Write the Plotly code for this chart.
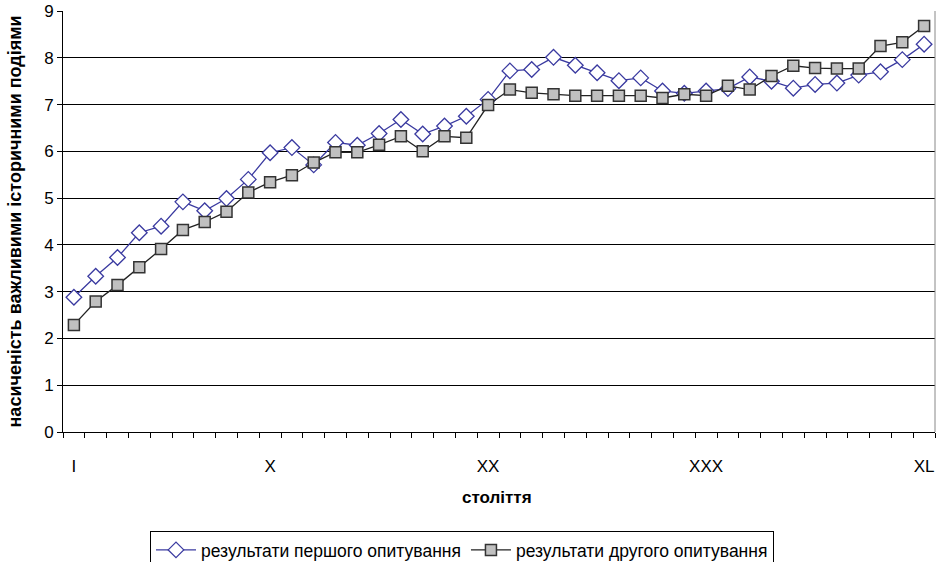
import plotly.graph_objects as go

centuries = list(range(1, 41))
tick_positions = [1, 10, 20, 30, 40]
tick_labels = ["I", "X", "XX", "XXX", "XL"]

survey1 = [2.88, 3.33, 3.73, 4.26, 4.40, 4.92, 4.73, 4.99, 5.40, 5.97,
           6.08, 5.71, 6.19, 6.13, 6.38, 6.68, 6.37, 6.54, 6.75, 7.11,
           7.72, 7.75, 8.01, 7.84, 7.68, 7.51, 7.57, 7.29, 7.24, 7.29,
           7.34, 7.59, 7.50, 7.35, 7.43, 7.46, 7.63, 7.70, 7.96, 8.29]
survey2 = [2.29, 2.79, 3.14, 3.52, 3.91, 4.32, 4.49, 4.71, 5.12, 5.34,
           5.49, 5.76, 5.98, 5.98, 6.14, 6.32, 6.00, 6.32, 6.29, 6.99,
           7.32, 7.25, 7.22, 7.19, 7.19, 7.19, 7.19, 7.14, 7.22, 7.19,
           7.40, 7.32, 7.61, 7.83, 7.78, 7.77, 7.77, 8.25, 8.33, 8.68]

name1 = "результати першого опитування"
name2 = "результати другого опитування"
x_title = "століття"
y_title = "насиченість важливими історичними подіями"

FONT = "Liberation Sans, Arial, sans-serif"

fig = go.Figure()
fig.add_trace(go.Scatter(
    x=centuries, y=survey1, name=name1, mode="lines+markers",
    line=dict(color="#3a3aa0", width=1.3),
    marker=dict(symbol="diamond", size=12, color="white",
                line=dict(color="#3a3aa0", width=1.3)),
))
fig.add_trace(go.Scatter(
    x=centuries, y=survey2, name=name2, mode="lines+markers",
    line=dict(color="#222222", width=1.3),
    marker=dict(symbol="square", size=11, color="#c0c0c0",
                line=dict(color="#333333", width=1.5)),
))

fig.update_layout(
    width=939, height=562,
    margin=dict(l=63, r=4, t=11, b=130, autoexpand=False),
    paper_bgcolor="white", plot_bgcolor="white",
    font=dict(family=FONT, size=17, color="black"),
    showlegend=True,
    legend=dict(orientation="h", xref="container", yref="container",
                x=150 / 939, xanchor="left", y=(562 - 531) / 562, yanchor="top",
                bordercolor="black", borderwidth=1, font=dict(size=17.5),
                itemwidth=40, tracegroupgap=0),
    xaxis=dict(
        range=[0.5, 40.5], showgrid=False, zeroline=False, automargin=False,
        showline=True, linecolor="black", linewidth=1,
        tickvals=tick_positions, ticktext=tick_labels, ticks="",
        ticklabelstandoff=19, tickfont=dict(size=17),
        minor=dict(tick0=0.5, dtick=1, ticks="outside", ticklen=5,
                   tickcolor="black", showgrid=False),
    ),
    yaxis=dict(
        range=[0, 9], dtick=1, showgrid=True, gridcolor="black", gridwidth=1,
        zeroline=False, showline=True, linecolor="black", linewidth=1, automargin=False,
        ticks="outside", ticklen=5, tickcolor="black", tickfont=dict(size=17),
    ),
    annotations=[
        dict(text="<b>" + x_title + "</b>", xref="paper", yref="paper",
             x=(497 - 63) / 872, y=(432 - 497) / 421, xanchor="center", yanchor="middle",
             showarrow=False, font=dict(size=17)),
        dict(text="<b>" + y_title + "</b>", xref="paper", yref="paper",
             x=(14 - 63) / 872, y=0.5, xanchor="center", yanchor="middle",
             textangle=-90, showarrow=False, font=dict(size=18)),
    ],
    shapes=[dict(type="line", xref="paper", yref="paper", x0=1, x1=1, y0=0, y1=1,
                 line=dict(color="#888888", width=1))],
)

fig.write_html("out.html", config={"displayModeBar": False},
               post_script="document.body.style.margin='0';document.body.style.padding='0';")
